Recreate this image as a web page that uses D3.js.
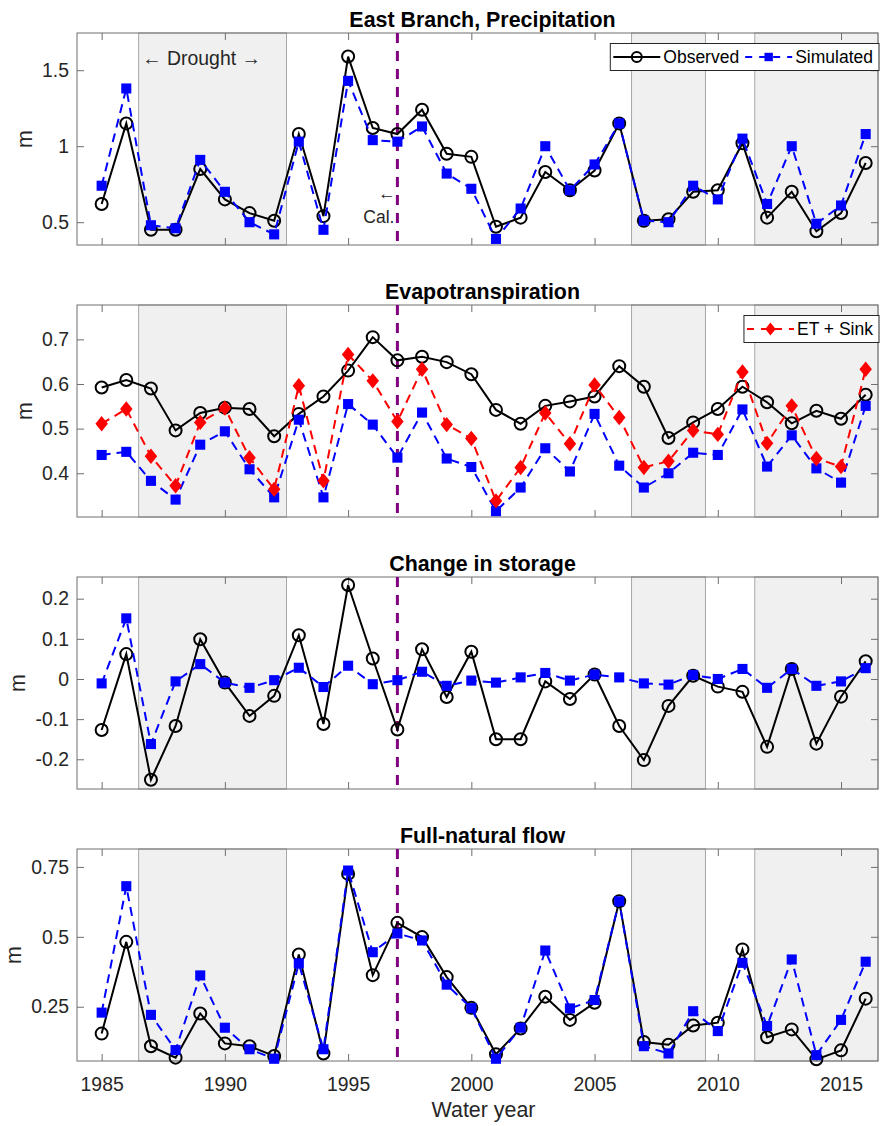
<!DOCTYPE html>
<html>
<head>
<meta charset="utf-8">
<script src="https://cdn.jsdelivr.net/npm/d3@7"></script>
<style>
  body { margin: 0; background: #fff; }
  text { font-family: "Liberation Sans", Arial, sans-serif; fill: #262626; }
</style>
</head>
<body>
<script>
// water years on the x axis
const years = d3.range(1985, 2017);
const xTicks = [1985, 1990, 1995, 2000, 2005, 2010, 2015];
const droughts = [[1986.5, 1992.5], [2006.5, 2009.5], [2011.5, 2016.5]];
const calYear = 1997;

// East Branch precipitation (m)
const precipObs = [0.62, 1.15, 0.45, 0.45, 0.85, 0.65, 0.56, 0.51, 1.08, 0.54, 1.59, 1.12, 1.08, 1.24, 0.95, 0.93,
                   0.47, 0.53, 0.83, 0.71, 0.84, 1.15, 0.51, 0.52, 0.70, 0.71, 1.02, 0.53, 0.70, 0.44, 0.56, 0.89];
const precipSim = [0.74, 1.38, 0.48, 0.46, 0.91, 0.70, 0.50, 0.42, 1.03, 0.45, 1.43, 1.04, 1.03, 1.13, 0.82, 0.72,
                   0.39, 0.59, 1.00, 0.71, 0.88, 1.15, 0.51, 0.50, 0.74, 0.65, 1.05, 0.62, 1.00, 0.49, 0.61, 1.08];

// evapotranspiration (m)
const etObs = [0.592, 0.609, 0.590, 0.496, 0.535, 0.547, 0.544, 0.483, 0.533, 0.572, 0.630, 0.705, 0.653, 0.661, 0.649, 0.622,
               0.542, 0.511, 0.551, 0.561, 0.572, 0.640, 0.594, 0.479, 0.514, 0.544, 0.594, 0.559, 0.512, 0.540, 0.522, 0.576];
const etSim = [0.441, 0.448, 0.383, 0.341, 0.464, 0.494, 0.409, 0.346, 0.520, 0.346, 0.555, 0.509, 0.435, 0.536, 0.433, 0.414,
               0.315, 0.368, 0.456, 0.404, 0.533, 0.417, 0.368, 0.400, 0.446, 0.441, 0.543, 0.415, 0.485, 0.411, 0.379, 0.551];
const etSink = [0.511, 0.544, 0.438, 0.372, 0.514, 0.546, 0.435, 0.364, 0.596, 0.383, 0.666, 0.607, 0.516, 0.633, 0.509, 0.478,
                0.338, 0.413, 0.535, 0.466, 0.598, 0.525, 0.413, 0.427, 0.496, 0.487, 0.627, 0.467, 0.551, 0.433, 0.415, 0.633];

// change in storage (m)
const dsObs = [-0.127, 0.062, -0.251, -0.117, 0.099, -0.009, -0.092, -0.042, 0.109, -0.112, 0.234, 0.051, -0.126, 0.074, -0.045, 0.068,
               -0.150, -0.150, -0.006, -0.050, 0.011, -0.117, -0.202, -0.067, 0.008, -0.019, -0.032, -0.169, 0.025, -0.161, -0.044, 0.044];
const dsSim = [-0.011, 0.151, -0.162, -0.006, 0.037, -0.009, -0.022, -0.003, 0.028, -0.020, 0.033, -0.013, -0.003, 0.018, -0.017, -0.004,
               -0.009, 0.004, 0.015, -0.004, 0.011, 0.004, -0.011, -0.014, 0.010, 0.000, 0.025, -0.022, 0.025, -0.017, -0.006, 0.027];

// full-natural flow (m)
const flowObs = [0.154, 0.482, 0.109, 0.068, 0.226, 0.119, 0.109, 0.074, 0.437, 0.083, 0.725, 0.363, 0.550, 0.499, 0.356, 0.246,
                 0.080, 0.172, 0.286, 0.203, 0.264, 0.627, 0.124, 0.114, 0.183, 0.193, 0.455, 0.141, 0.169, 0.062, 0.094, 0.279];
const flowSim = [0.229, 0.681, 0.221, 0.095, 0.362, 0.175, 0.098, 0.064, 0.405, 0.098, 0.737, 0.445, 0.512, 0.487, 0.329, 0.245,
                 0.064, 0.175, 0.451, 0.244, 0.274, 0.627, 0.109, 0.083, 0.234, 0.163, 0.407, 0.181, 0.419, 0.077, 0.203, 0.411];

const observed = { name: "Observed", color: "#000", dash: null, marker: "circle" };
const simulated = { name: "Simulated", color: "#0000ff", dash: "9,6", marker: "square" };
const sink = { name: "ET + Sink", color: "#ff0000", dash: "9,6", marker: "diamond" };

const panels = [
    { title: "East Branch, Precipitation", domain: [0.35, 1.745], ticks: [0.5, 1, 1.5],
      series: [[observed, precipObs], [simulated, precipSim]], legend: [observed, simulated] },
    { title: "Evapotranspiration", domain: [0.302, 0.777], ticks: [0.4, 0.5, 0.6, 0.7],
      series: [[observed, etObs], [simulated, etSim], [sink, etSink]], legend: [sink] },
    { title: "Change in storage", domain: [-0.274, 0.254], ticks: [-0.2, -0.1, 0, 0.1, 0.2],
      series: [[observed, dsObs], [simulated, dsSim]], legend: [] },
    { title: "Full-natural flow", domain: [0.056, 0.814], ticks: [0.25, 0.5, 0.75],
      series: [[observed, flowObs], [simulated, flowSim]], legend: [] }
];

const left = 77, top0 = 33, step = 272;
const W = 801, H = 212;
const axisColor = "#6e6e6e";

const svg = d3.select("body").append("svg")
    .attr("width", 889)
    .attr("height", 1126);

const x = d3.scaleLinear().domain([1984, 2016.5]).range([0, W]);

function drawMarker(sel, marker, color, size) {
    if (marker === "circle") {
        sel.append("circle")
            .attr("r", size * 0.5)
            .attr("fill", "none")
            .attr("stroke", color)
            .attr("stroke-width", 2);
    } else if (marker === "square") {
        sel.append("rect")
            .attr("x", -size * 0.42).attr("y", -size * 0.42)
            .attr("width", size * 0.84).attr("height", size * 0.84)
            .attr("fill", color);
    } else {
        const w = size * 0.52, h = size * 0.64;
        sel.append("path")
            .attr("d", `M0,${-h}L${w},0L0,${h}L${-w},0Z`)
            .attr("fill", color);
    }
}

panels.forEach((p, i) => {
    const g = svg.append("g")
        .attr("transform", `translate(${left},${top0 + i * step})`);
    const y = d3.scaleLinear().domain(p.domain).range([H, 0]);

    // drought years
    g.selectAll(".drought")
        .data(droughts)
        .enter()
        .append("rect")
        .attr("class", "drought")
        .attr("x", d => x(d[0]))
        .attr("width", d => x(d[1]) - x(d[0]))
        .attr("y", 0)
        .attr("height", H)
        .attr("fill", "#f0f0f0")
        .attr("stroke", "#a8a8a8")
        .attr("stroke-width", 1);

    // axes, ticks pointing inward
    const yAxis = g.append("g")
        .call(d3.axisLeft(y).tickValues(p.ticks).tickSize(-7).tickSizeOuter(0).tickPadding(8).tickFormat(d => String(d)));
    g.append("g").attr("transform", `translate(${W},0)`)
        .call(d3.axisRight(y).tickValues(p.ticks).tickSize(-7).tickSizeOuter(0).tickFormat(""));
    g.append("g")
        .call(d3.axisTop(x).tickValues(xTicks).tickSize(-7).tickSizeOuter(0).tickFormat(""));
    const xAxis = g.append("g").attr("transform", `translate(0,${H})`)
        .call(d3.axisBottom(x).tickValues(xTicks).tickSize(-7).tickSizeOuter(0).tickPadding(16)
            .tickFormat(i === panels.length - 1 ? d => String(d) : ""));

    g.selectAll(".domain").remove();
    g.selectAll(".tick line").attr("stroke", axisColor);
    g.selectAll(".tick text")
        .attr("font-family", "\"Liberation Sans\", Arial, sans-serif")
        .attr("font-size", 19.4)
        .attr("fill", "#262626");

    g.append("rect")
        .attr("x", 0).attr("y", 0)
        .attr("width", W).attr("height", H)
        .attr("fill", "none")
        .attr("stroke", axisColor)
        .attr("stroke-width", 1);

    // calibration split
    g.append("line")
        .attr("x1", x(calYear)).attr("x2", x(calYear))
        .attr("y1", 0).attr("y2", H)
        .attr("stroke", "#800080")
        .attr("stroke-width", 3)
        .attr("stroke-dasharray", "10,8");

    // data
    p.series.forEach(([s, values]) => {
        const pts = years.map((yr, k) => ({ year: yr, v: values[k] }));
        const line = d3.line().x(d => x(d.year)).y(d => y(d.v));
        g.append("path")
            .datum(pts)
            .attr("d", line)
            .attr("fill", "none")
            .attr("stroke", s.color)
            .attr("stroke-width", 2)
            .attr("stroke-dasharray", s.dash);
        g.selectAll(null)
            .data(pts)
            .enter()
            .append("g")
            .attr("transform", d => `translate(${x(d.year)},${y(d.v)})`)
            .each(function() { drawMarker(d3.select(this), s.marker, s.color, 12); });
    });

    // title
    g.append("text")
        .attr("x", W / 2 + 5)
        .attr("y", -6)
        .attr("text-anchor", "middle")
        .attr("font-size", 21.4)
        .attr("font-weight", "bold")
        .style("fill", "#000")
        .text(p.title);

    // y label, placed left of the widest tick label
    const minX = d3.min(yAxis.selectAll("text").nodes(), n => n.getBBox().x);
    g.append("text")
        .attr("transform", `translate(${minX - 16},${H / 2}) rotate(-90)`)
        .attr("text-anchor", "middle")
        .attr("dy", "0.26em")
        .attr("font-size", 21.4)
        .text("m");

    if (i === panels.length - 1) {
        g.append("text")
            .attr("x", W / 2 + 6)
            .attr("y", H + 56)
            .attr("text-anchor", "middle")
            .attr("font-size", 21.4)
            .text("Water year");
    }

    if (i === 0) {
        g.append("text")
            .attr("x", x(1986.65))
            .attr("y", y(1.58))
            .attr("dy", "0.35em")
            .attr("font-size", 19.4)
            .text("\u2190 Drought \u2192");
        g.append("text")
            .attr("x", x(calYear) - 2)
            .attr("y", y(0.69))
            .attr("dy", "0.35em")
            .attr("text-anchor", "end")
            .attr("font-size", 17.5)
            .text("\u2190");
        g.append("text")
            .attr("x", x(calYear) - 3)
            .attr("y", y(0.535))
            .attr("dy", "0.35em")
            .attr("text-anchor", "end")
            .attr("font-size", 17.5)
            .text("Cal.");
    }

    // legend in the upper right corner
    if (p.legend.length) {
        const leg = g.append("g");
        const box = leg.append("rect")
            .attr("y", 10.5)
            .attr("height", 27)
            .attr("fill", "#fff")
            .attr("stroke", "#262626")
            .attr("stroke-width", 1);
        let cx = 3;
        p.legend.forEach(s => {
            leg.append("line")
                .attr("x1", cx).attr("x2", cx + 47)
                .attr("y1", 24).attr("y2", 24)
                .attr("stroke", s.color)
                .attr("stroke-width", 2)
                .attr("stroke-dasharray", s.dash ? "7,7" : null);
            const m = leg.append("g").attr("transform", `translate(${cx + 23.5},24)`);
            drawMarker(m, s.marker, s.color, 10);
            const t = leg.append("text")
                .attr("x", cx + 50)
                .attr("y", 24)
                .attr("dy", "0.35em")
                .attr("font-size", 17.5)
                .style("fill", "#000")
                .text(s.name);
            cx += 50 + t.node().getComputedTextLength() + 6;
        });
        box.attr("width", cx);
        leg.attr("transform", `translate(${W - cx + 1},0)`);
    }
});
</script>
</body>
</html>
